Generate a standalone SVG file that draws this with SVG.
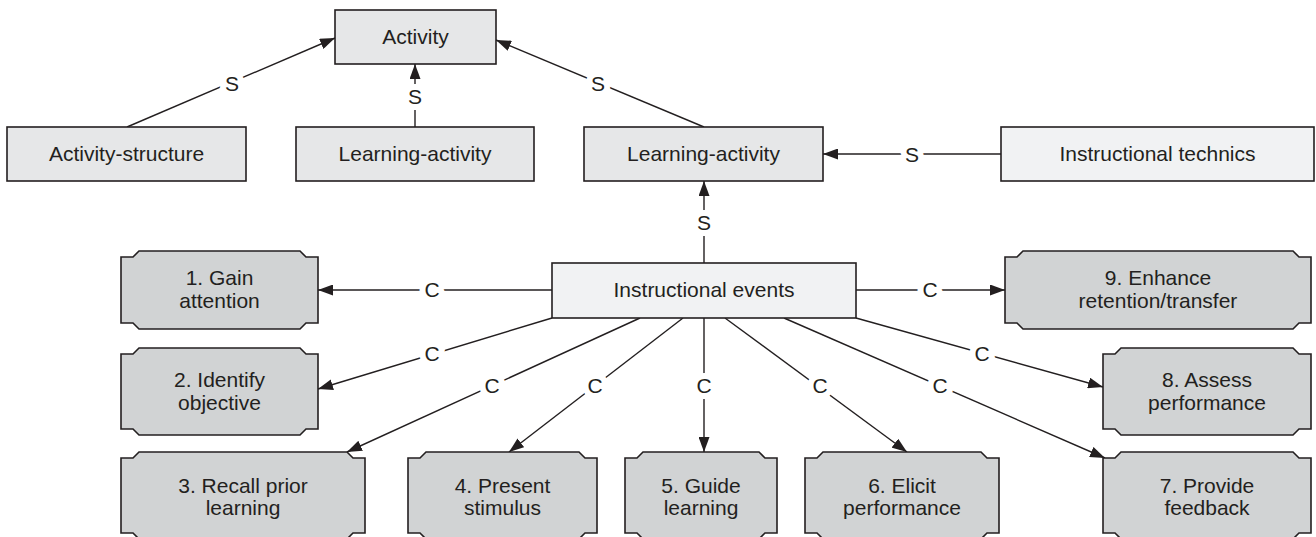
<svg xmlns="http://www.w3.org/2000/svg" width="1316" height="537" viewBox="0 0 1316 537">
<style>
text{font-family:"Liberation Sans",Arial,Helvetica,sans-serif;font-size:21px;fill:#231f20;text-anchor:middle}
.box{fill:#e6e7e8;stroke:#231f20;stroke-width:1.6}
.lbox{fill:#f1f2f3;stroke:#231f20;stroke-width:1.6}
.notch{fill:#d1d3d4;stroke:#231f20;stroke-width:1.6}
.ln{stroke:#231f20;stroke-width:1.4;fill:none}
.arr{marker-end:url(#ah)}
.lab{stroke:#ffffff;stroke-width:12;paint-order:stroke;stroke-linejoin:round}
</style>
<defs>
<marker id="ah" viewBox="0 0 15 11" refX="15" refY="5.5" markerWidth="15" markerHeight="11" markerUnits="userSpaceOnUse" orient="auto">
<path d="M0,0 L15,5.5 L0,11 z" fill="#231f20"/>
</marker>
</defs>
<rect width="1316" height="537" fill="#ffffff"/>

<g id="connectors">
<line class="ln arr" x1="127" y1="127" x2="335" y2="38"/>
<line class="ln arr" x1="415" y1="127" x2="415" y2="64"/>
<line class="ln arr" x1="704" y1="127" x2="496" y2="40"/>
<line class="ln arr" x1="1001" y1="154" x2="823" y2="154"/>
<line class="ln arr" x1="704" y1="263" x2="704" y2="181"/>
<line class="ln arr" x1="552" y1="290" x2="318" y2="290"/>
<line class="ln arr" x1="856" y1="290" x2="1005" y2="290"/>
<line class="ln arr" x1="552" y1="318" x2="318" y2="389"/>
<line class="ln arr" x1="640" y1="318" x2="347" y2="452"/>
<line class="ln arr" x1="683" y1="318" x2="509" y2="452"/>
<line class="ln arr" x1="704" y1="318" x2="704" y2="452"/>
<line class="ln arr" x1="725" y1="318" x2="907" y2="452"/>
<line class="ln arr" x1="784" y1="318" x2="1105" y2="458"/>
<line class="ln arr" x1="856" y1="318" x2="1103" y2="387"/>
<text class="lab" x="232" y="91">S</text>
<text class="lab" x="415" y="104">S</text>
<text class="lab" x="598" y="91">S</text>
<text class="lab" x="912" y="162">S</text>
<text class="lab" x="704" y="230">S</text>
<text class="lab" x="432" y="297">C</text>
<text class="lab" x="930" y="297">C</text>
<text class="lab" x="432" y="361">C</text>
<text class="lab" x="492" y="393">C</text>
<text class="lab" x="595" y="393">C</text>
<text class="lab" x="704" y="393">C</text>
<text class="lab" x="820" y="393">C</text>
<text class="lab" x="940" y="393">C</text>
<text class="lab" x="982" y="361">C</text>
</g>

<g id="activity"><rect class="box" x="335" y="10" width="161" height="54"/><text x="415.5" y="44">Activity</text></g>
<g id="activity-structure"><rect class="box" x="7" y="127" width="239" height="54"/><text x="126.5" y="161">Activity-structure</text></g>
<g id="learning-activity-1"><rect class="box" x="296" y="127" width="238" height="54"/><text x="415" y="161">Learning-activity</text></g>
<g id="learning-activity-2"><rect class="box" x="584" y="127" width="239" height="54"/><text x="703.5" y="161">Learning-activity</text></g>
<g id="instructional-technics"><rect class="lbox" x="1001" y="127" width="313" height="54"/><text x="1157.5" y="161">Instructional technics</text></g>
<g id="instructional-events"><rect class="lbox" x="552" y="263" width="304" height="55"/><text x="704" y="297">Instructional events</text></g>

<g id="n1"><polygon class="notch" points="121,257 133,257 139,251 300,251 306,257 318,257 318,323 306,323 300,329 139,329 133,323 121,323"/><text x="219.5" y="285">1. Gain</text><text x="219.5" y="308">attention</text></g>
<g id="n2"><polygon class="notch" points="121,354 133,354 139,348 300,348 306,354 318,354 318,429 306,429 300,435 139,435 133,429 121,429"/><text x="219.5" y="387">2. Identify</text><text x="219.5" y="410">objective</text></g>
<g id="n3"><polygon class="notch" points="121,458 133,458 139,452 347,452 353,458 365,458 365,533 353,533 347,539 139,539 133,533 121,533"/><text x="243" y="493">3. Recall prior</text><text x="243" y="515">learning</text></g>
<g id="n4"><polygon class="notch" points="408,458 420,458 426,452 579,452 585,458 597,458 597,533 585,533 579,539 426,539 420,533 408,533"/><text x="502.5" y="493">4. Present</text><text x="502.5" y="515">stimulus</text></g>
<g id="n5"><polygon class="notch" points="625,458 637,458 643,452 759,452 765,458 777,458 777,533 765,533 759,539 643,539 637,533 625,533"/><text x="701" y="493">5. Guide</text><text x="701" y="515">learning</text></g>
<g id="n6"><polygon class="notch" points="805,458 817,458 823,452 981,452 987,458 999,458 999,533 987,533 981,539 823,539 817,533 805,533"/><text x="902" y="493">6. Elicit</text><text x="902" y="515">performance</text></g>
<g id="n7"><polygon class="notch" points="1103,458 1115,458 1121,452 1293,452 1299,458 1311,458 1311,533 1299,533 1293,539 1121,539 1115,533 1103,533"/><text x="1207" y="493">7. Provide</text><text x="1207" y="515">feedback</text></g>
<g id="n8"><polygon class="notch" points="1103,354 1115,354 1121,348 1293,348 1299,354 1311,354 1311,429 1299,429 1293,435 1121,435 1115,429 1103,429"/><text x="1207" y="387">8. Assess</text><text x="1207" y="410">performance</text></g>
<g id="n9"><polygon class="notch" points="1005,257 1017,257 1023,251 1293,251 1299,257 1311,257 1311,323 1299,323 1293,329 1023,329 1017,323 1005,323"/><text x="1158" y="285">9. Enhance</text><text x="1158" y="308">retention/transfer</text></g>
</svg>
